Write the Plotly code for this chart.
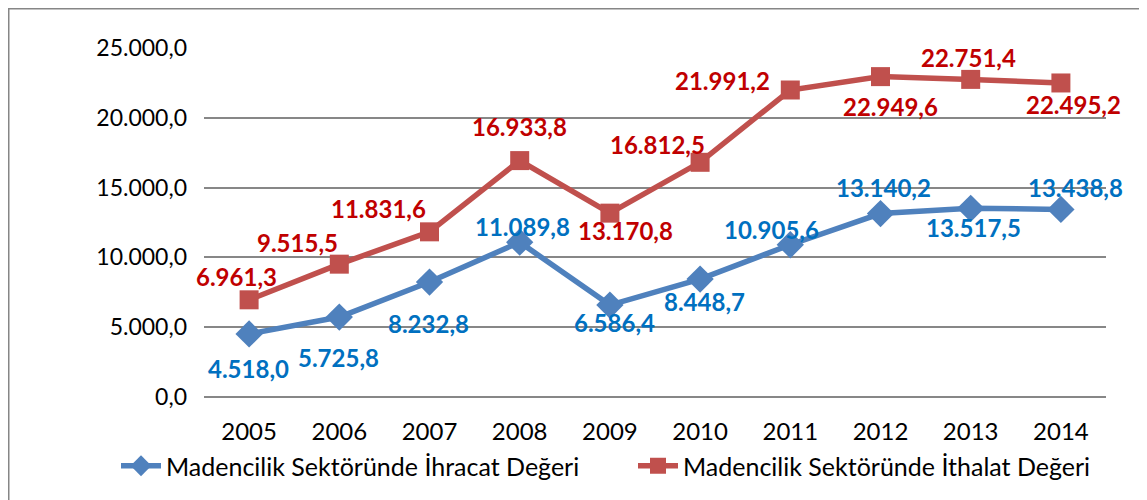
import plotly.graph_objects as go

years = ["2005", "2006", "2007", "2008", "2009", "2010", "2011", "2012", "2013", "2014"]
ihracat = [4518.0, 5725.8, 8232.8, 11089.8, 6586.4, 8448.7, 10905.6, 13140.2, 13517.5, 13438.8]
ithalat = [6961.3, 9515.5, 11831.6, 16933.8, 13170.8, 16812.5, 21991.2, 22949.6, 22751.4, 22495.2]
name_ihracat = "Madencilik Sektöründe İhracat Değeri"
name_ithalat = "Madencilik Sektöründe İthalat Değeri"
y_ticks = [0, 5000, 10000, 15000, 20000, 25000]

# label offsets in pixels (dx, dy screen-down)
off_ihracat = [(-1, 35), (-1, 40), (-1, 41), (3, -16), (5, 17), (4, 22), (-19, -15), (3, -26), (3, 19), (15, -22)]
off_ithalat = [(-13, -23), (-42, -22), (-51, -23), (0, -34), (16, 17), (-43, -18), (-68, -10), (10, 30), (-2, -22), (13, 22)]

FONT = "Lato, 'Open Sans', sans-serif"


def fmt(v):
    s = f"{v:,.1f}"
    return s.replace(",", "X").replace(".", ",").replace("X", ".")


fig = go.Figure()
fig.add_trace(go.Scatter(
    x=years, y=ihracat, name=name_ihracat, mode="lines+markers",
    line=dict(color="#4F81BD", width=5.5),
    marker=dict(symbol="diamond", size=21, color="#4F81BD"),
    legend="legend",
))
fig.add_trace(go.Scatter(
    x=years, y=ithalat, name=name_ithalat, mode="lines+markers",
    line=dict(color="#C0504D", width=5.5),
    marker=dict(symbol="square", size=19, color="#C0504D"),
    legend="legend2",
))

annotations = []
for vals, offs, col in [(ihracat, off_ihracat, "#0070C0"), (ithalat, off_ithalat, "#C00000")]:
    for i, (v, (dx, dy)) in enumerate(zip(vals, offs)):
        annotations.append(dict(
            x=i, y=v, xref="x", yref="y", text="<b>" + fmt(v) + "</b>", showarrow=False,
            xshift=dx, yshift=-dy,
            font=dict(family=FONT, size=24, color=col),
        ))

# page body has an 8px margin: shift figure coordinates by -8
OFF = 8
W, H = 1147, 500
L, T = 204 - OFF, 48 - OFF
R = W - (1106 - OFF)
B = H - (397 - OFF)
pw, ph = W - L - R, H - T - B
y0px = 397 - OFF

leg_common = dict(orientation="h", xref="container", yref="container",
                  xanchor="left", y=1 - (466 - OFF) / H, yanchor="middle",
                  font=dict(family=FONT, size=25, color="black"),
                  itemwidth=40, bgcolor="rgba(0,0,0,0)")

fig.update_layout(
    width=W, height=H,
    margin=dict(l=L, r=R, t=T, b=B, autoexpand=False),
    paper_bgcolor="white", plot_bgcolor="white",
    font=dict(family=FONT, size=24, color="black"),
    showlegend=True,
    legend=dict(x=(116 - OFF) / W, **leg_common),
    legend2=dict(x=(633 - OFF) / W, **leg_common),
    annotations=annotations,
    shapes=[dict(type="rect", xref="paper", yref="paper",
                 x0=(0.75 - L) / pw, x1=(1160 - L) / pw,
                 y0=(y0px - 520) / ph, y1=(y0px - 0.75) / ph,
                 line=dict(color="#868686", width=1.5), fillcolor="rgba(0,0,0,0)",
                 layer="below")],
)
fig.update_xaxes(type="category", showgrid=False, showline=False, zeroline=False,
                 ticks="", ticklabelstandoff=18,
                 tickfont=dict(family=FONT, size=24, color="black"),
                 range=[-0.5, 9.5])
fig.update_yaxes(range=[0, 25000], tickvals=y_ticks,
                 ticktext=[fmt(v) for v in y_ticks],
                 showgrid=True, gridcolor="#878787", gridwidth=1.5,
                 zeroline=True, zerolinecolor="#878787", zerolinewidth=1.5,
                 showline=False, ticks="", ticklabelstandoff=16,
                 tickfont=dict(family=FONT, size=23, color="black"))

fig.write_html("out.html")
